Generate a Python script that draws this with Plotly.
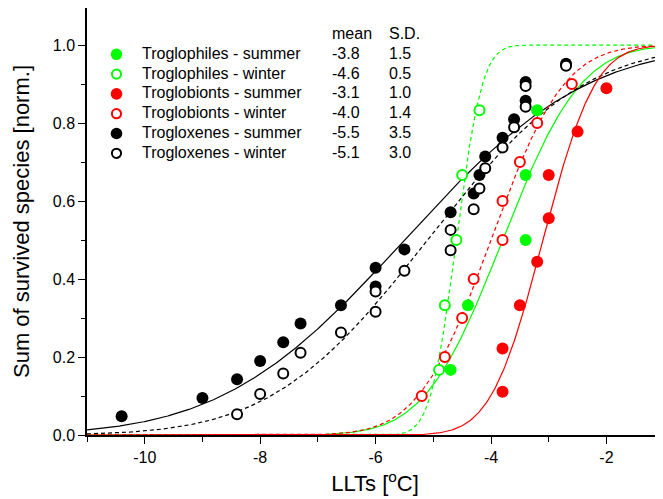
import math
import plotly.graph_objects as go

# ---------------- data ----------------
series_names = ["Troglophiles - summer", "Troglophiles - winter",
                "Troglobionts - summer", "Troglobionts - winter",
                "Trogloxenes - summer", "Trogloxenes - winter"]
series_mean = [-3.8, -4.6, -3.1, -4.0, -5.5, -5.1]
series_sd = [1.5, 0.5, 1.0, 1.4, 3.5, 3.0]
mean_labels = ["-3.8", "-4.6", "-3.1", "-4.0", "-5.5", "-5.1"]
sd_labels = ["1.5", "0.5", "1.0", "1.4", "3.5", "3.0"]

tph_s_x = [-4.7, -4.4, -3.4, -3.4, -3.2]
tph_s_y = [0.167, 0.333, 0.500, 0.667, 0.833]
tph_w_x = [-4.9, -4.8, -4.6, -4.5, -4.2]
tph_w_y = [0.167, 0.333, 0.500, 0.667, 0.833]

tbi_s_x = [-3.8, -3.8, -3.5, -3.2, -3.0, -3.0, -2.5, -2.0]
tbi_s_y = [0.111, 0.222, 0.333, 0.444, 0.556, 0.667, 0.778, 0.889]
tbi_w_x = [-5.2, -4.8, -4.5, -4.3, -3.8, -3.8, -3.5, -3.2, -2.6]
tbi_w_y = [0.1, 0.2, 0.3, 0.4, 0.5, 0.6, 0.7, 0.8, 0.9]

txe_s_x = [-10.4, -9.0, -8.4, -8.0, -7.6, -7.3, -6.6, -6.0, -6.0, -5.5,
           -4.7, -4.3, -4.2, -4.1, -3.8, -3.6, -3.4, -3.4, -2.7]
txe_s_y = [0.048, 0.095, 0.143, 0.190, 0.238, 0.286, 0.333, 0.381, 0.429, 0.476,
           0.571, 0.619, 0.667, 0.714, 0.762, 0.810, 0.857, 0.905, 0.952]
txe_w_x = [-8.4, -8.0, -7.6, -7.3, -6.6, -6.0, -6.0, -5.5, -4.7, -4.7,
           -4.3, -4.2, -4.1, -3.8, -3.6, -3.4, -3.4, -2.7]
txe_w_y = [0.053, 0.105, 0.158, 0.211, 0.263, 0.316, 0.368, 0.421, 0.474, 0.526,
           0.579, 0.632, 0.684, 0.737, 0.789, 0.842, 0.895, 0.947]

x_tick_vals = [-10, -8, -6, -4, -2]
x_tick_text = ["-10", "-8", "-6", "-4", "-2"]
y_tick_vals = [0.0, 0.2, 0.4, 0.6, 0.8, 1.0]
y_tick_text = ["0.0", "0.2", "0.4", "0.6", "0.8", "1.0"]

# ---------------- styling ----------------
GREEN = "#00FF00"
RED = "#FF0000"
BLACK = "#000000"
series_color = [GREEN, GREEN, RED, RED, BLACK, BLACK]
series_filled = [True, False, True, False, True, False]
series_points = [(tph_s_x, tph_s_y), (tph_w_x, tph_w_y), (tbi_s_x, tbi_s_y),
                 (tbi_w_x, tbi_w_y), (txe_s_x, txe_s_y), (txe_w_x, txe_w_y)]

# the page adds an 8px body margin; the figure is sized to fill the rest
OFF = 8
W, H = 663 - OFF, 499 - OFF
ML, MR, MT, MB = 79, 0, 0, 64
PW, PH = W - ML - MR, H - MT - MB
FONT = "Liberation Sans, Arial, sans-serif"

fig = go.Figure()

# fitted curves (erf form, as given by mean and S.D. in the legend)
grid = [-11 + 0.02 * i for i in range(501)]
curve_order = [0, 1, 4, 5, 3, 2]
for i in curve_order:
    m, s = series_mean[i], series_sd[i]
    ys = [0.5 * (1 + math.erf((x - m) / s)) for x in grid]
    fig.add_trace(go.Scatter(
        x=grid, y=ys, mode="lines", showlegend=False, hoverinfo="skip",
        line=dict(color=series_color[i], width=1.2,
                  dash="solid" if series_filled[i] else "4px,3px")))

# data points
for i in [4, 5, 1, 0, 3, 2]:
    xs, ys = series_points[i]
    if series_filled[i]:
        mk = dict(size=12, color=series_color[i], line=dict(width=0))
    else:
        mk = dict(size=10, color="white", line=dict(width=2, color=series_color[i]))
    fig.add_trace(go.Scatter(x=xs, y=ys, mode="markers", name=series_names[i],
                             showlegend=False, marker=mk))

# ---------------- manual legend (positions in page pixels) ----------------
def fx(px):
    return (px - OFF - ML) / PW

def fy(py):
    return (H - MB - (py - OFF)) / PH

row0, row_step = 53.3, 19.8
annotations = []
shapes = []
annotations.append(dict(text="mean", x=fx(330), y=fy(33.3), xref="paper", yref="paper",
                        xanchor="left", yanchor="middle", showarrow=False,
                        font=dict(family=FONT, size=16, color="black")))
annotations.append(dict(text="S.D.", x=fx(387), y=fy(33.3), xref="paper", yref="paper",
                        xanchor="left", yanchor="middle", showarrow=False,
                        font=dict(family=FONT, size=16, color="black")))
for i, name in enumerate(series_names):
    py = row0 + row_step * i
    for txt, px in [(name, 140), (mean_labels[i], 330), (sd_labels[i], 387)]:
        annotations.append(dict(text=txt, x=fx(px), y=fy(py), xref="paper", yref="paper",
                                xanchor="left", yanchor="middle", showarrow=False,
                                font=dict(family=FONT, size=16, color="black")))
    r = 5.8 if series_filled[i] else 4.6
    shapes.append(dict(type="circle", xref="paper", yref="paper",
                       xsizemode="pixel", ysizemode="pixel",
                       xanchor=fx(116.5), yanchor=fy(py + 1),
                       x0=-r, x1=r, y0=-r, y1=r,
                       fillcolor=series_color[i] if series_filled[i] else "white",
                       line=dict(color=series_color[i], width=0 if series_filled[i] else 2),
                       layer="above"))

fig.update_layout(
    width=W, height=H, autosize=False,
    margin=dict(l=ML, r=MR, t=MT, b=MB, pad=0),
    plot_bgcolor="white", paper_bgcolor="white",
    font=dict(family=FONT, size=16, color="black"),
    annotations=annotations, shapes=shapes,
    xaxis=dict(range=[-11, -1.02], showgrid=False, zeroline=False, automargin=False,
               showline=True, linecolor="black", linewidth=1.5,
               ticks="outside", ticklen=7, tickwidth=1.2, tickcolor="black",
               tickvals=x_tick_vals, ticktext=x_tick_text,
               tickfont=dict(family=FONT, size=16),
               minor=dict(dtick=1, tick0=-11, ticks="outside", ticklen=5,
                          tickwidth=1.2, tickcolor="black", showgrid=False),
               layer="below traces",
               title=dict(text="LLTs [<sup>o</sup>C]", font=dict(family=FONT, size=22),
                          standoff=11)),
    yaxis=dict(range=[0, 1.095], showgrid=False, zeroline=False, automargin=False,
               showline=True, linecolor="black", linewidth=1.5,
               ticks="outside", ticklen=7, tickwidth=1.2, tickcolor="black",
               tickvals=y_tick_vals, ticktext=y_tick_text,
               tickfont=dict(family=FONT, size=16),
               minor=dict(dtick=0.1, tick0=0, ticks="outside", ticklen=4,
                          tickwidth=1.2, tickcolor="black", showgrid=False),
               layer="below traces",
               title=dict(text="Sum of survived species [norm.]",
                          font=dict(family=FONT, size=22), standoff=17)),
)

fig.write_html("out.html")
